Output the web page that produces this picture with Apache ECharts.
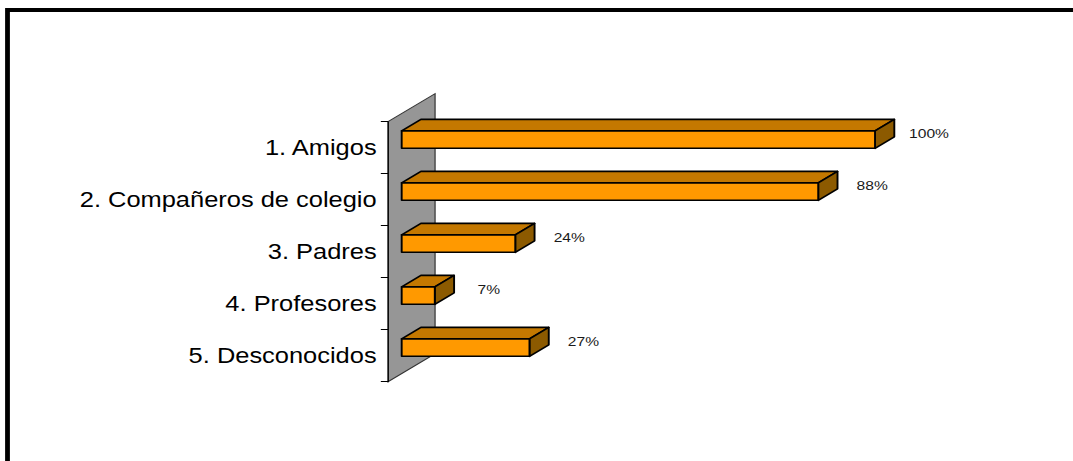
<!DOCTYPE html>
<html>
<head>
<meta charset="utf-8">
<script src="https://cdn.jsdelivr.net/npm/echarts@6/dist/echarts.min.js"></script>
<style>
  html, body { margin: 0; padding: 0; background: #fff; overflow: hidden; }
  #c { width: 894px; height: 461px; transform: scaleX(1.2002); transform-origin: 0 0; }
</style>
</head>
<body>
<div id="c"></div>
<script>
// ---- data ----
const categories = ['1. Amigos', '2. Compañeros de colegio', '3. Padres', '4. Profesores', '5. Desconocidos'];
const values = [100, 88, 24, 7, 27];
const valueLabels = ['100%', '88%', '24%', '7%', '27%'];

// ---- 3D look ----
const DX = 39.2, DY = -28;     // full depth offset of the wall
const F1 = 0.29, F2 = 0.70;    // bar depth range (fraction of wall depth)
const FRONT = '#FF9900', TOP = '#C47800', SIDE = '#8C5A00';
const LW = 1.6;
const FONT = '"Liberation Sans", Arial, sans-serif';

const chart = echarts.init(document.getElementById('c'), null, { renderer: 'svg' });

function P(x, y, d) { return [x + d * DX, y + d * DY]; }

function renderWall(params, api) {
  const cs = params.coordSys;
  const x0 = api.coord([0, 0])[0];
  const top = cs.y, bottom = cs.y + cs.height;
  return {
    type: 'polygon',
    shape: { points: [[x0, top], P(x0, top, 1), P(x0, bottom, 1), [x0, bottom]] },
    style: { fill: '#969696', stroke: '#333', lineWidth: 1 }
  };
}

function renderBar(params, api) {
  const idx = params.dataIndex;
  const val = api.value(0), cat = api.value(1);
  const base = api.coord([0, cat]);
  const end = api.coord([val, cat]);
  const band = api.size([0, 1])[1];
  const h = band * 0.335;
  const yt = base[1] - h / 2, yb = base[1] + h / 2;
  const xl = base[0], xr = end[0];
  const st = (fill) => ({ fill: fill, stroke: '#000', lineWidth: LW, lineJoin: 'round' });
  const f = P(xl, yt, F1);
  return {
    type: 'group',
    children: [
      { type: 'polygon', shape: { points: [P(xl, yt, F1), P(xr, yt, F1), P(xr, yt, F2), P(xl, yt, F2)] }, style: st(TOP) },
      { type: 'polygon', shape: { points: [P(xr, yt, F1), P(xr, yt, F2), P(xr, yb, F2), P(xr, yb, F1)] }, style: st(SIDE) },
      { type: 'rect', shape: { x: f[0], y: f[1], width: xr - xl, height: h }, style: st(FRONT) },
      { type: 'text', style: {
          text: valueLabels[idx], x: xr + F1 * DX + 45, y: base[1] + 0.5 * DY,
          align: 'center', verticalAlign: 'middle',
          fontFamily: FONT, fontSize: 13, fill: '#1a1a1a' } }
    ]
  };
}

chart.setOption({
  animation: false,
  backgroundColor: '#fff',
  grid: { left: 323.3, right: 176.3, top: 121.7, bottom: 79.3, outerBoundsMode: 'none' },
  xAxis: { type: 'value', min: 0, max: 100, show: false },
  yAxis: {
    type: 'category', data: categories, inverse: true, z: 10,
    axisLine: { show: true, lineStyle: { color: '#000', width: 1 } },
    axisTick: { show: true, length: 6, lineStyle: { color: '#000', width: 1 } },
    axisLabel: { color: '#000', fontSize: 21.2, fontFamily: FONT, margin: 9.5 },
    splitLine: { show: false }
  },
  graphic: [{
    type: 'rect', silent: true, z: 100,
    shape: { x: 6.25, y: 10, width: 1500, height: 1000 },
    style: { fill: 'none', stroke: '#000', lineWidth: 4 }
  }],
  series: [
    { type: 'custom', name: 'wall', z: -1, silent: true, renderItem: renderWall, data: [[0, 0]], encode: { x: 0, y: 1 } },
    { type: 'custom', name: 'bars', z: 2, renderItem: renderBar, data: values.map((v, i) => [v, i]), encode: { x: 0, y: 1 } }
  ]
});
</script>
</body>
</html>
